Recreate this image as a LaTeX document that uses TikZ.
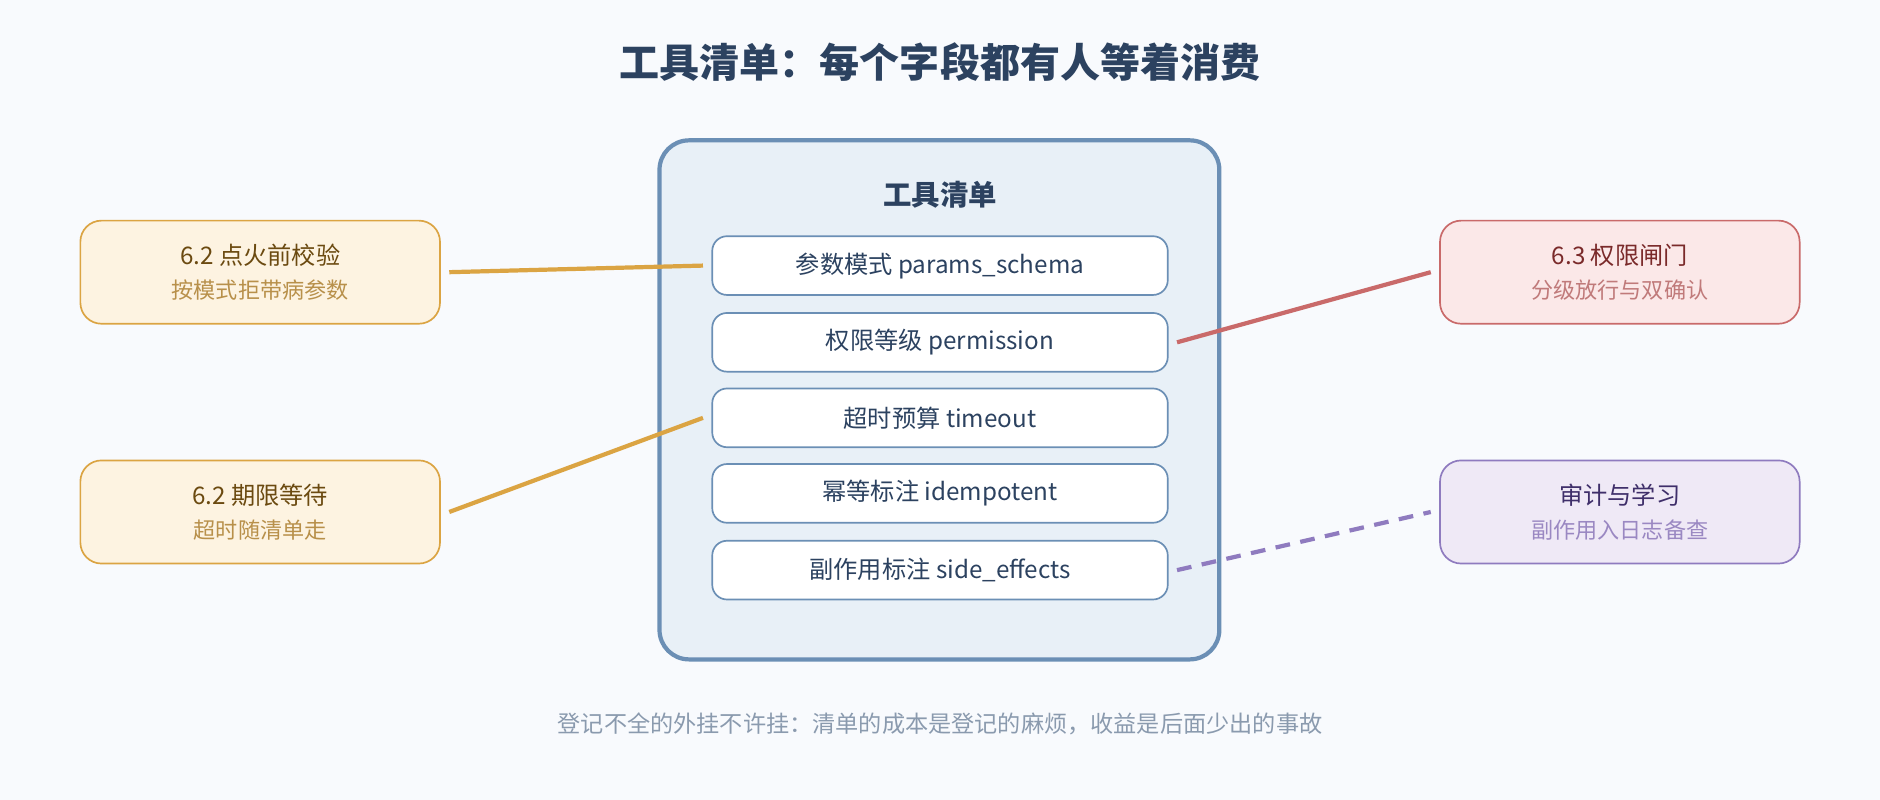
\documentclass[tikz,border=0pt]{standalone}
\usepackage{fontspec}
\setmainfont{Noto Sans CJK SC}
\begin{document}
\begin{tikzpicture}[x=0.02cm,y=-0.02cm,
  item/.style={draw=boxb,fill=white,rounded corners=7pt,line width=0.8pt,minimum width=7.6cm,minimum height=0.98cm,text=titc,font=\fontsize{11.5}{13}\selectfont},
  side/.style={rounded corners=10pt,line width=0.8pt,minimum width=6cm,minimum height=1.72cm},
  link/.style={line width=2pt}]
\definecolor{bg}{HTML}{F8FAFD}
\definecolor{titc}{HTML}{2C4260}
\definecolor{boxb}{HTML}{6B8FB5}
\definecolor{mainf}{HTML}{E8F0F7}
\definecolor{foot}{HTML}{8A9AAE}
\definecolor{orf}{HTML}{FDF3E1}\definecolor{ord}{HTML}{DBA443}\definecolor{ort}{HTML}{6B4A10}\definecolor{ors}{HTML}{B8904A}
\definecolor{rdf}{HTML}{FBE8E8}\definecolor{rdd}{HTML}{C96A6A}\definecolor{rdt}{HTML}{7A2A2A}\definecolor{rds}{HTML}{C07A7A}
\definecolor{puf}{HTML}{EFE9F6}\definecolor{pud}{HTML}{8F7BBF}\definecolor{put}{HTML}{3F2F6A}\definecolor{pus}{HTML}{9A88C2}
\fill[bg] (0,0) rectangle (1568,667);
\useasboundingbox (0,0) rectangle (1568,667);
\node[text=titc,font=\fontsize{19}{22}\bfseries\selectfont] (title) at (784,52) {工具清单：每个字段都有人等着消费};
\node[draw=boxb,fill=mainf,line width=2pt,rounded corners=14pt,minimum width=9.34cm,minimum height=8.66cm] (main) at (783.5,333.5) {};
\node[text=titc,font=\fontsize{13.5}{15}\bfseries\selectfont] (mt) at (784,162) {工具清单};
\node[item] (i1) at (784,221.5) {参数模式 params\_schema};
\node[item] (i2) at (784,285.5) {权限等级 permission};
\node[item] (i3) at (784,348.5) {超时预算 timeout};
\node[item] (i4) at (784,411.5) {幂等标注 idempotent};
\node[item] (i5) at (784,475.5) {副作用标注 side\_effects};
\node[side,draw=ord,fill=orf,align=center] (l1) at (217,227) {\textcolor{ort}{\fontsize{11.5}{15}\selectfont 6.2 点火前校验}\\[4pt]\textcolor{ors}{\fontsize{10.5}{13}\selectfont 按模式拒带病参数}};
\node[side,draw=ord,fill=orf,align=center] (l2) at (217,427) {\textcolor{ort}{\fontsize{11.5}{15}\selectfont 6.2 期限等待}\\[4pt]\textcolor{ors}{\fontsize{10.5}{13}\selectfont 超时随清单走}};
\node[side,draw=rdd,fill=rdf,align=center] (r1) at (1351,227) {\textcolor{rdt}{\fontsize{11.5}{15}\selectfont 6.3 权限闸门}\\[4pt]\textcolor{rds}{\fontsize{10.5}{13}\selectfont 分级放行与双确认}};
\node[side,draw=pud,fill=puf,align=center] (r2) at (1351,427) {\textcolor{put}{\fontsize{11.5}{15}\selectfont 审计与学习}\\[4pt]\textcolor{pus}{\fontsize{10.5}{13}\selectfont 副作用入日志备查}};
\draw[link,draw=ord] ([xshift=4pt]l1.east) -- ([xshift=-4pt]i1.west);
\draw[link,draw=ord] ([xshift=4pt]l2.east) -- ([xshift=-4pt]i3.west);
\draw[link,draw=rdd] ([xshift=4pt]i2.east) -- ([xshift=-4pt]r1.west);
\draw[link,draw=pud,dash pattern=on 7pt off 5pt] ([xshift=4pt]i5.east) -- ([xshift=-4pt]r2.west);
\node[text=foot,font=\fontsize{11}{13}\selectfont] (ft) at (784,604) {登记不全的外挂不许挂：清单的成本是登记的麻烦，收益是后面少出的事故};
\end{tikzpicture}
\end{document}
